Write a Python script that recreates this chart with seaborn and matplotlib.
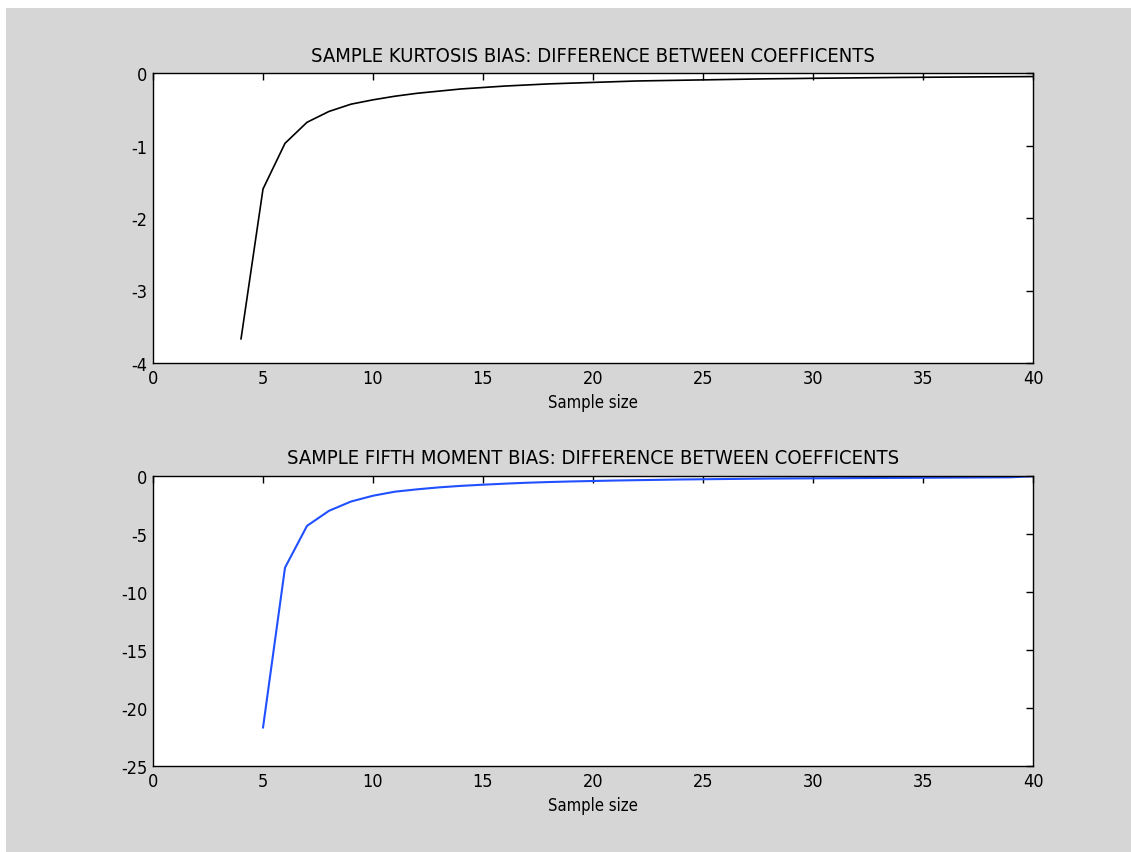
import numpy as np
import pandas as pd
import matplotlib
matplotlib.use("Agg")
import matplotlib.pyplot as plt
import seaborn as sns

# sample sizes and bias values
n_kurt = list(range(4, 41))
kurt_bias = [-3.67, -1.60, -0.97, -0.68, -0.53, -0.43, -0.37, -0.32, -0.28, -0.25,
             -0.22, -0.20, -0.18, -0.165, -0.15, -0.14, -0.13, -0.12, -0.11, -0.105,
             -0.10, -0.095, -0.09, -0.085, -0.08, -0.077, -0.073, -0.07, -0.067, -0.064,
             -0.061, -0.059, -0.057, -0.055, -0.053, -0.051, -0.049]

n_fifth = list(range(5, 41))
fifth_bias = [-21.7, -7.9, -4.3, -3.0, -2.2, -1.7, -1.35, -1.15, -0.98, -0.85,
              -0.75, -0.66, -0.58, -0.52, -0.47, -0.43, -0.39, -0.36, -0.33, -0.30,
              -0.28, -0.26, -0.24, -0.22, -0.21, -0.20, -0.19, -0.18, -0.17, -0.16,
              -0.15, -0.14, -0.13, -0.12, -0.11, -0.02]

titles = ["SAMPLE KURTOSIS BIAS: DIFFERENCE BETWEEN COEFFICENTS",
          "SAMPLE FIFTH MOMENT BIAS: DIFFERENCE BETWEEN COEFFICENTS"]

sns.set_style("white")
plt.rcParams['font.family'] = ['DejaVu Sans']
plt.rcParams['font.stretch'] = 'condensed'
plt.rcParams['axes.unicode_minus'] = False
plt.rcParams['text.color'] = 'black'
plt.rcParams['axes.labelcolor'] = 'black'
plt.rcParams['xtick.color'] = 'black'
plt.rcParams['ytick.color'] = 'black'

df_k = pd.DataFrame({"n": n_kurt, "bias": kurt_bias})
df_f = pd.DataFrame({"n": n_fifth, "bias": fifth_bias})

fig = plt.figure(figsize=(11.31, 8.53), dpi=100)
fig.patch.set_facecolor("white")
# gray matlab canvas with thin white margin at top/left
fig.patches.append(plt.Rectangle((6/1131, 0), 1, 1 - 9/853, transform=fig.transFigure,
                                  facecolor="#d6d6d6", edgecolor="none", zorder=-10))

ax1 = fig.add_axes([153/1131, 1 - 364/853, 880/1131, 290/853])
ax2 = fig.add_axes([153/1131, 1 - 767/853, 880/1131, 290/853])

sns.lineplot(data=df_k, x="n", y="bias", ax=ax1, color="black", linewidth=1.2)
sns.lineplot(data=df_f, x="n", y="bias", ax=ax2, color="#2050ff", linewidth=1.5)

setup = [(ax1, (-4, 0), np.arange(-4, 1, 1), titles[0]),
         (ax2, (-25, 0), np.arange(-25, 1, 5), titles[1])]
for ax, ylim, yt, title in setup:
    ax.set_facecolor("white")
    ax.set_xlim(0, 40)
    ax.set_ylim(*ylim)
    ax.set_xticks(np.arange(0, 41, 5))
    ax.set_yticks(yt)
    ax.tick_params(direction="in", length=5, width=1, top=True, right=True,
                   labelsize=13, pad=4)
    for s in ax.spines.values():
        s.set_color("black")
        s.set_linewidth(1)
    ax.set_xlabel("Sample size", fontsize=12, labelpad=5)
    ax.set_ylabel("")
    ax.set_title(title, fontsize=14.5, pad=9)

fig.savefig("out.png", dpi=100)
